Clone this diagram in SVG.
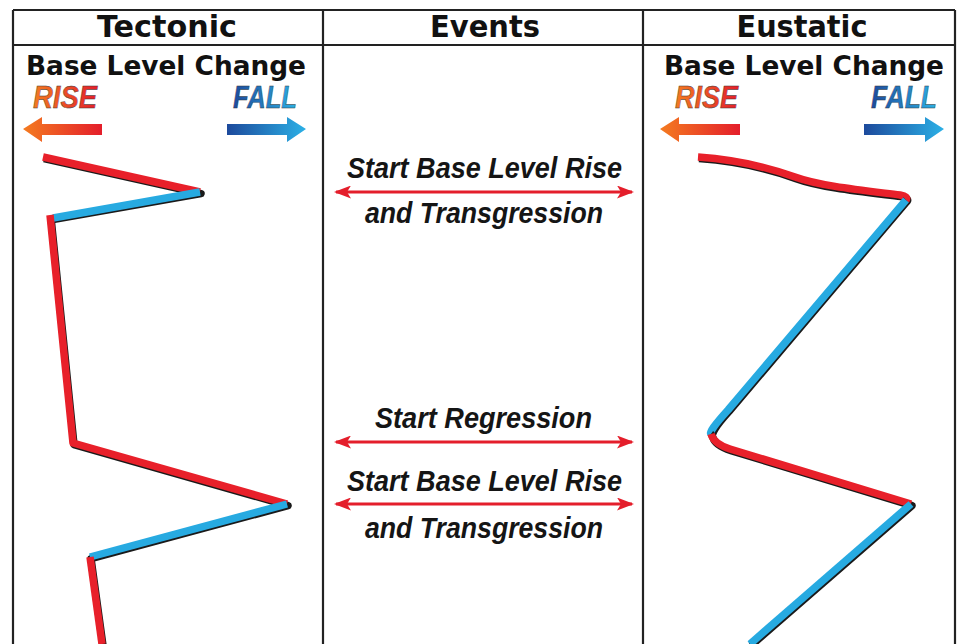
<svg xmlns="http://www.w3.org/2000/svg" width="959" height="644" viewBox="0 0 959 644">
<defs>
<linearGradient id="gRise" x1="0" y1="0" x2="1" y2="0"><stop offset="0" stop-color="#f47b20"/><stop offset="1" stop-color="#e41e2b"/></linearGradient>
<linearGradient id="gFall" x1="0" y1="0" x2="1" y2="0"><stop offset="0" stop-color="#1d4a9c"/><stop offset="1" stop-color="#2bb0e6"/></linearGradient>
<marker id="ah" viewBox="0 0 17 13" refX="15" refY="6.5" markerWidth="17" markerHeight="13" markerUnits="userSpaceOnUse" orient="auto-start-reverse"><path d="M0,0 L17,6.5 L0,13 L4,6.5 Z" fill="#e41e2b"/></marker>
</defs>
<style>
.grid{stroke:#222;stroke-width:2.2;fill:none}
.hdr{font-family:"DejaVu Sans",Verdana,sans-serif;font-weight:bold;font-size:31px;fill:#111;text-anchor:middle}
.blc{font-family:"DejaVu Sans",Verdana,sans-serif;font-weight:bold;font-size:27px;fill:#111}
.rf{font-family:"Liberation Sans",Arial,sans-serif;font-weight:bold;font-style:italic;font-size:31px;stroke:#333;stroke-width:0.4}
.ev{font-family:"Liberation Sans",Arial,sans-serif;font-weight:bold;font-style:italic;font-size:29.5px;fill:#151515}
.evl{stroke:#e41e2b;stroke-width:3;fill:none}
.sh{stroke:#1a1a1a;stroke-width:7.5;fill:none;stroke-linejoin:round}
.r{stroke:#e8202a;stroke-width:7.5;fill:none;stroke-linejoin:round}
.b{stroke:#27aae1;stroke-width:7.5;fill:none;stroke-linejoin:round}
</style>
<rect width="959" height="644" fill="#fff"/>
<g id="table">
<path class="grid" d="M13,10 H955 M13,45 H955 M13,10 V644 M323,10 V644 M643,10 V644 M955,10 V644"/>
<text class="hdr" x="167" y="37" textLength="140" lengthAdjust="spacingAndGlyphs">Tectonic</text>
<text class="hdr" x="485" y="37" textLength="110" lengthAdjust="spacingAndGlyphs">Events</text>
<text class="hdr" x="802" y="37" textLength="131" lengthAdjust="spacingAndGlyphs">Eustatic</text>
</g>
<g id="tectonic-legend">
<text class="blc" x="26" y="75" textLength="280" lengthAdjust="spacingAndGlyphs">Base Level Change</text>
<text class="rf" x="33" y="108" fill="url(#gRise)" textLength="64" lengthAdjust="spacingAndGlyphs">RISE</text>
<text class="rf" x="233" y="108" fill="url(#gFall)" textLength="64" lengthAdjust="spacingAndGlyphs">FALL</text>
<path d="M23,129 L42,117 L42,124 L102,124 L102,135 L42,135 L42,142 Z" fill="url(#gRise)"/>
<path d="M227,124 L287,124 L287,117 L306,129 L287,142 L287,135 L227,135 Z" fill="url(#gFall)"/>
</g>
<g id="eustatic-legend">
<text class="blc" x="664" y="75" textLength="280" lengthAdjust="spacingAndGlyphs">Base Level Change</text>
<text class="rf" x="675" y="108" fill="url(#gRise)" textLength="63" lengthAdjust="spacingAndGlyphs">RISE</text>
<text class="rf" x="871" y="108" fill="url(#gFall)" textLength="66" lengthAdjust="spacingAndGlyphs">FALL</text>
<path d="M660,129 L679,117 L679,124 L740,124 L740,135 L679,135 L679,142 Z" fill="url(#gRise)"/>
<path d="M864,124 L925,124 L925,117 L944,129 L925,142 L925,135 L864,135 Z" fill="url(#gFall)"/>
</g>
<g id="tectonic-curve">
<g transform="translate(1,1.6)">
<path class="sh" d="M43,157 L200,192 L52,218 M50,216 L73,443 L287,504 L90,557 L102,644"/>
</g>
<path class="r" d="M43,157 L200,192"/>
<path class="b" d="M200,192 L53,218"/>
<path class="r" d="M50,215 L73,443 L287,504"/>
<path class="b" d="M287,504 L90,557"/>
<path class="r" d="M90,557 L102,644"/>
</g>
<g id="eustatic-curve">
<g transform="translate(1,1.6)">
<path class="sh" d="M698,157 C740,160 770,168 795,177 C820,186 860,190 900,195 Q910,197 905,201 L728,410 Q708,432 712,436 Q714,444 730,449 L911,504 L750,644"/>
</g>
<path class="r" d="M698,157 C740,160 770,168 795,177 C820,186 860,190 900,195 Q909,197 906,200"/>
<path class="b" d="M906,200 L728,410 Q708,432 711,434"/>
<path class="r" d="M711,434 Q714,444 730,449 L911,504"/>
<path class="b" d="M911,504 L750,644"/>
</g>
<g id="connectors">
<line class="evl" x1="336" y1="192" x2="632" y2="192" marker-start="url(#ah)" marker-end="url(#ah)"/>
<line class="evl" x1="336" y1="442" x2="632" y2="442" marker-start="url(#ah)" marker-end="url(#ah)"/>
<line class="evl" x1="336" y1="504" x2="632" y2="504" marker-start="url(#ah)" marker-end="url(#ah)"/>
</g>
<g id="event-1">
<text class="ev" x="347" y="178" textLength="275" lengthAdjust="spacingAndGlyphs">Start Base Level Rise</text>
<text class="ev" x="365" y="223" textLength="238" lengthAdjust="spacingAndGlyphs">and Transgression</text>
</g>
<g id="event-2">
<text class="ev" x="375" y="428" textLength="217" lengthAdjust="spacingAndGlyphs">Start Regression</text>
</g>
<g id="event-3">
<text class="ev" x="347" y="491" textLength="275" lengthAdjust="spacingAndGlyphs">Start Base Level Rise</text>
<text class="ev" x="365" y="538" textLength="238" lengthAdjust="spacingAndGlyphs">and Transgression</text>
</g>
</svg>
